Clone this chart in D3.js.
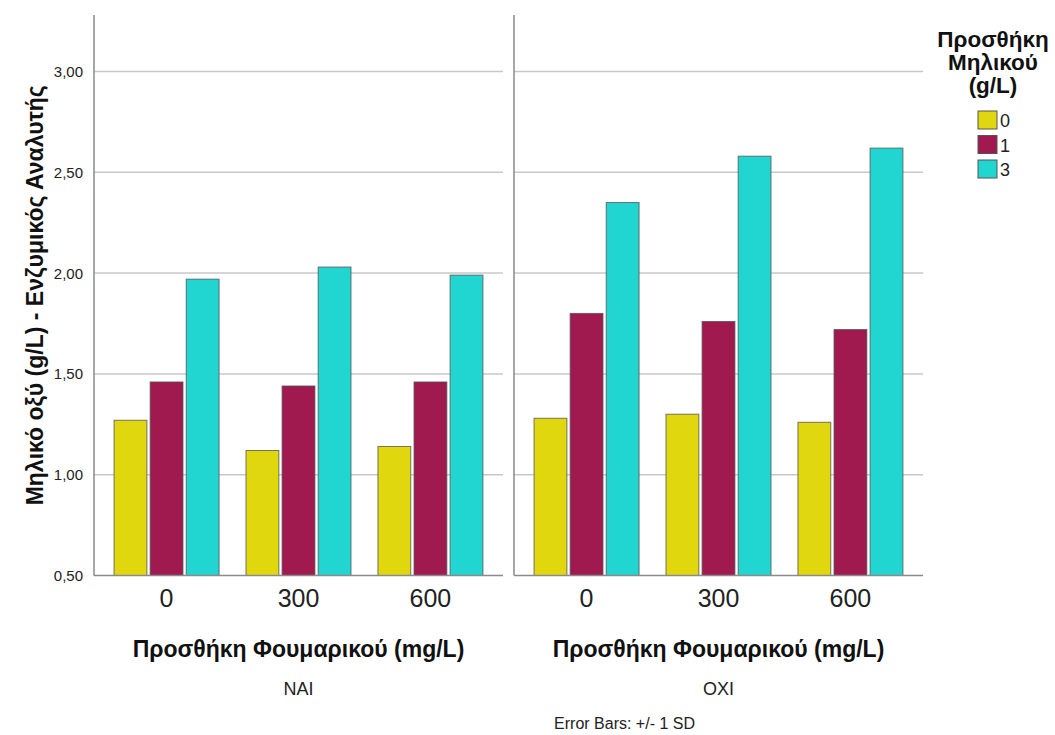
<!DOCTYPE html>
<html>
<head>
<meta charset="utf-8">
<script src="https://cdn.jsdelivr.net/npm/d3@7"></script>
<style>
  body { margin: 0; background: #fff; }
  svg { display: block; }
  .plain { font-family: "Liberation Sans", Arial, sans-serif; }
  .bold { font-family: "Liberation Sans", Arial, sans-serif; font-weight: bold; }
</style>
</head>
<body>
<svg id="chart" width="1055" height="735"></svg>
<script>
// Panels (Προσθήκη ... ΝΑΙ / ΟΧΙ), fumaric additions, malic additions
const panels = ["NAI", "OXI"];
const fumaric = ["0", "300", "600"];
const malic = ["0", "1", "3"];
const yTicks = [0.5, 1.0, 1.5, 2.0, 2.5, 3.0];

// Mean malic acid (g/L) per malic addition, one value per fumaric level
const naiMalic0 = [1.27, 1.12, 1.14];
const naiMalic1 = [1.46, 1.44, 1.46];
const naiMalic3 = [1.97, 2.03, 1.99];
const oxiMalic0 = [1.28, 1.30, 1.26];
const oxiMalic1 = [1.80, 1.76, 1.72];
const oxiMalic3 = [2.35, 2.58, 2.62];

const colors = ["#e1d70f", "#a0194f", "#21d5d1"];

const panelSeries = {
  NAI: [naiMalic0, naiMalic1, naiMalic3],
  OXI: [oxiMalic0, oxiMalic1, oxiMalic3]
};

const svg = d3.select("#chart");

const plotTop = 15, baseline = 575.5;
const panelRanges = { NAI: [94, 503], OXI: [514, 923] };

const y = d3.scaleLinear().domain([0.5, 3.0]).range([baseline, baseline - 5 * 100.8]);
const fmt = v => d3.format(".2f")(v).replace(".", ",");

// Y tick labels
svg.append("g").selectAll("text").data(yTicks).join("text")
  .attr("class", "plain")
  .attr("x", 83).attr("y", d => y(d) + 5.5)
  .attr("text-anchor", "end")
  .attr("font-size", 15).attr("fill", "#222")
  .text(fmt);

// Y axis title
svg.append("text").attr("class", "bold")
  .attr("transform", `translate(43,${(plotTop + baseline) / 2}) rotate(-90)`)
  .attr("text-anchor", "middle")
  .attr("font-size", 23).attr("fill", "#111")
  .text("Μηλικό οξύ (g/L) - Ενζυμικός Αναλυτής");

panels.forEach(p => {
  const [x0p, x1p] = panelRanges[p];
  const g = svg.append("g");

  // gridlines
  g.selectAll("line.grid").data(yTicks.slice(1)).join("line")
    .attr("x1", x0p).attr("x2", x1p)
    .attr("y1", d => y(d)).attr("y2", d => y(d))
    .attr("stroke", "#c8c8c8").attr("stroke-width", 1.5);

  const x0 = d3.scaleBand().domain(fumaric).range([x0p, x1p]).paddingOuter(0.05).paddingInner(0);
  const x1 = d3.scaleBand().domain(malic).range([0, 105]).paddingInner(0.09);
  const groupOffset = (x0.bandwidth() - 105) / 2;

  const series = panelSeries[p];
  fumaric.forEach((f, i) => {
    malic.forEach((m, j) => {
      const v = series[j][i];
      g.append("rect")
        .attr("x", x0(f) + groupOffset + x1(m))
        .attr("y", y(v))
        .attr("width", x1.bandwidth())
        .attr("height", y(0.5) - y(v))
        .attr("fill", colors[j])
        .attr("stroke", "#555")
        .attr("stroke-opacity", 0.8)
        .attr("stroke-width", 1);
    });
    // category label
    g.append("text").attr("class", "plain")
      .attr("x", x0(f) + x0.bandwidth() / 2).attr("y", 607)
      .attr("text-anchor", "middle").attr("font-size", 25).attr("fill", "#222")
      .text(f);
  });

  // vertical axis and baseline
  g.append("line").attr("x1", x0p).attr("x2", x0p).attr("y1", plotTop).attr("y2", baseline)
    .attr("stroke", "#8a8a8a").attr("stroke-width", 1.5);
  g.append("line").attr("x1", x0p).attr("x2", x1p).attr("y1", baseline).attr("y2", baseline)
    .attr("stroke", "#8a8a8a").attr("stroke-width", 1.5);

  const cx = (x0p + x1p) / 2;
  g.append("text").attr("class", "bold")
    .attr("x", cx).attr("y", 657).attr("text-anchor", "middle")
    .attr("font-size", 23).attr("fill", "#111")
    .text("Προσθήκη Φουμαρικού (mg/L)");
  g.append("text").attr("class", "plain")
    .attr("x", cx).attr("y", 695).attr("text-anchor", "middle")
    .attr("font-size", 18).attr("fill", "#222")
    .text(p);
});

svg.append("text").attr("class", "plain")
  .attr("x", 695).attr("y", 729).attr("text-anchor", "end")
  .attr("font-size", 16).attr("fill", "#222")
  .text("Error Bars: +/- 1 SD");

// Legend
const legendTitle = ["Προσθήκη", "Μηλικού", "(g/L)"];
svg.append("g").selectAll("text").data(legendTitle).join("text")
  .attr("class", "bold")
  .attr("x", 993).attr("y", (d, i) => 47 + i * 23)
  .attr("text-anchor", "middle").attr("font-size", 22.5).attr("fill", "#111")
  .text(d => d);

const lg = svg.append("g").selectAll("g").data(malic).join("g")
  .attr("transform", (d, i) => `translate(978,${111 + i * 24.5})`);
lg.append("rect").attr("width", 19).attr("height", 18)
  .attr("fill", (d, i) => colors[i]).attr("stroke", "#555").attr("stroke-width", 1);
lg.append("text").attr("class", "plain")
  .attr("x", 22).attr("y", 16).attr("font-size", 18).attr("fill", "#222")
  .text(d => d);
</script>
</body>
</html>
